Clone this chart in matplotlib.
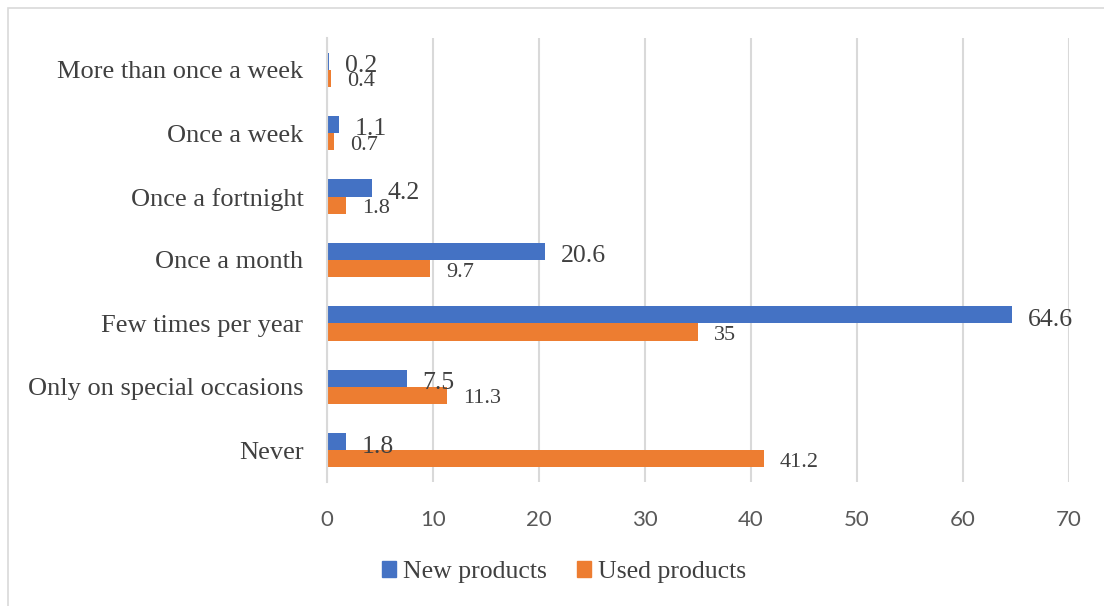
import numpy as np
import matplotlib.pyplot as plt
from matplotlib.patches import Rectangle

# 购买频率数据（从上到下）
categories = ["More than once a week", "Once a week", "Once a fortnight",
              "Once a month", "Few times per year", "Only on special occasions", "Never"]
new_products = [0.2, 1.1, 4.2, 20.6, 64.6, 7.5, 1.8]
used_products = [0.4, 0.7, 1.8, 9.7, 35, 11.3, 41.2]
x_ticks = [0, 10, 20, 30, 40, 50, 60, 70]

W, H = 1104, 606
fig = plt.figure(figsize=(W / 100, H / 100), dpi=100)

# 外框
fig.patches.append(Rectangle((8 / W, -0.02), 1.1, (H - 8) / H + 0.02,
                             transform=fig.transFigure, fill=False,
                             edgecolor="#d9d9d9", linewidth=1.2))

ax = fig.add_axes([327 / W, 1 - 482 / H, (1069 - 327) / W, (482 - 38) / H])

y = np.arange(len(categories))
h = 0.27
blue = "#4472c4"
orange = "#ed7d31"
ax.barh(y - h / 2, new_products, height=h, color=blue, zorder=3)
ax.barh(y + h / 2, used_products, height=h, color=orange, zorder=3)

# 数据标签
for i, v in enumerate(new_products):
    ax.annotate(f"{v:g}", (v, y[i] - h / 2), xytext=(11.5, -3.5), textcoords="offset points",
                ha="left", va="center", family="Liberation Serif", fontsize=18.5, color="#404040")
for i, v in enumerate(used_products):
    ax.annotate(f"{v:g}", (v, y[i] + h / 2), xytext=(11.5, -2.5), textcoords="offset points",
                ha="left", va="center", family="Liberation Serif", fontsize=16, color="#404040")

ax.set_xlim(0, 70)
ax.set_ylim(len(categories) - 0.5, -0.5)
ax.set_xticks(x_ticks)
ax.set_yticks(y)
ax.set_yticklabels(categories, family="Liberation Serif", fontsize=19, color="#404040")
for lab in ax.get_xticklabels():
    lab.set_family("Lato")
    lab.set_fontsize(16)
    lab.set_color("#595959")
ax.tick_params(axis="x", length=0, pad=20)
ax.tick_params(axis="y", length=0, pad=17)
ax.grid(axis="x", color="#d9d9d9", linewidth=1.5, zorder=0)
for s in ["top", "right", "bottom"]:
    ax.spines[s].set_visible(False)
ax.spines["left"].set_color("#d9d9d9")
ax.spines["left"].set_linewidth(1.5)
ax.spines["left"].set_zorder(4)

# 图例
handles = [Rectangle((0, 0), 1, 1, color=blue), Rectangle((0, 0), 1, 1, color=orange)]
fig.legend(handles, ["New products", "Used products"], loc="center",
           bbox_to_anchor=(564 / W, 1 - 572 / H), ncol=2, frameon=False,
           prop={"family": "Liberation Serif", "size": 18.5}, handlelength=0.55,
           handleheight=0.55, handletextpad=0.25, columnspacing=1.2, labelcolor="#404040")

fig.savefig("out.png", dpi=100)
